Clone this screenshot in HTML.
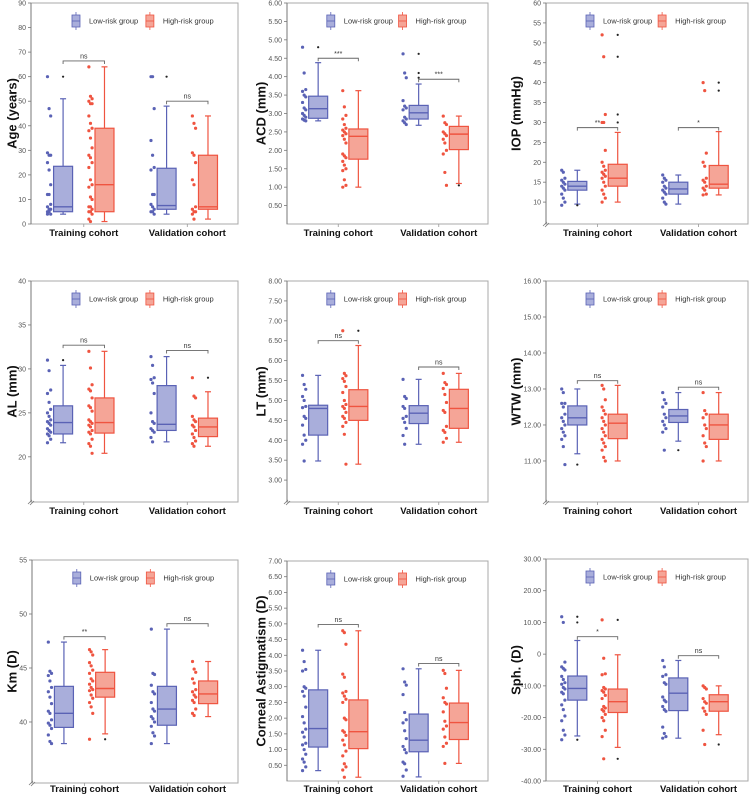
<!DOCTYPE html>
<html><head><meta charset="utf-8"><style>
html,body{margin:0;padding:0;background:#fff;}
svg{display:block;font-family:"Liberation Sans",sans-serif;}
</style></head><body>
<svg id="chart" width="753" height="794" viewBox="0 0 753 794"></svg>
<script>
// ---------- data ----------
const groupNames = ["Low-risk group","High-risk group"];
const cohortNames = ["Training cohort","Validation cohort"];
// box stats per group: [whiskerLow, q1, median, q3, whiskerHigh]; order: low-train, high-train, low-val, high-val
const ageBoxes = [[4,5,7,23.5,51],[1,5,16,39,64],[4,6,7.5,22.7,48],[2,6,7,28,44]];
const agePoints = [[60,47,44,29,28,28,25,22,16,12,12,8,7,6,6,5,5,4,4],[64,52,51,50,49,49,44,41,39,38,35,31,28,27,25,23,18,16,15,11,10,7,7,6,5,5,4,2,1],[60,60,47,34,28,23,22,12,12,8,7,6,5,5,4],[44,41,39,29,28,25,18,16,7,6,5,5,4,2]];
const ageOutliers = [[60],[],[60],[]];
const ageSig = [["ns",66.4],["ns",50]];
const acdBoxes = [[2.8,2.87,3.13,3.47,4.38],[1.0,1.76,2.38,2.58,3.62],[2.68,2.85,3.02,3.22,3.8],[1.1,2.02,2.44,2.65,2.93]];
const acdPoints = [[4.8,4.1,3.65,3.6,3.5,3.45,3.3,3.15,3.1,3.0,2.95,2.9,2.85,2.82,2.8],[3.62,3.18,2.95,2.85,2.7,2.6,2.55,2.5,2.45,2.4,2.3,2.2,1.9,1.85,1.8,1.7,1.6,1.5,1.45,1.2,1.05,1.0],[4.62,4.1,3.97,3.35,3.2,3.15,3.1,2.9,2.85,2.8,2.75,2.7],[2.93,2.75,2.7,2.5,2.45,2.4,2.3,2.2,2.0,1.9,1.4,1.05]];
const acdOutliers = [[4.8],[],[3.97,4.1,4.62],[1.05]];
const acdSig = [["***",4.5],["***",3.93]];
const iopBoxes = [[9.5,13,14,15.2,18],[10,14,16,19.5,27.5],[9.5,12,13.3,15,16.8],[11.8,13.5,14.5,19.2,27.7]];
const iopPoints = [[18,17.5,16,15.5,15,14.5,14,13.5,13,12,11,10,9.2],[52,46.5,32,30,30,23,20,19,18,17.5,17,16.5,16,15,14,13,12,11,10],[16.8,16,15.5,15,14,13.5,13,12.5,12,11,10,9.5],[40,38,22.3,20,19,16,15.5,15,14,13.5,13,12,11.8]];
const iopOutliers = [[9.2],[30,32,46.5,52],[],[38,40]];
const iopSig = [["**",28.7],["*",28.7]];
const alBoxes = [[21.6,22.6,23.9,25.8,30.4],[20.4,22.7,23.9,26.7,32],[21.7,23,23.7,28.1,31.4],[21.2,22.3,23.4,24.4,27.4]];
const alPoints = [[31,29.8,27.6,27.2,26.2,25.4,25,24.6,24.2,24,23.8,23.6,23.2,23,22.8,22.6,22.4,22,21.6],[32,30.1,28.2,27.7,27.5,26.7,25.8,25.6,25.2,24.2,24,23.8,23.6,23.4,23,22.8,22.6,22,21.5,21.2,20.4],[31.4,30.4,29,28.8,28.4,27.2,25,24,23.8,23.2,23,22.8,22.2,21.7],[29,26.9,26.7,24.6,24.2,24,23.6,23.4,23,22.6,22.2,21.8,21.5,21.2]];
const alOutliers = [[31],[],[],[29]];
const alSig = [["ns",32.7],["ns",32.1]];
const ltBoxes = [[3.48,4.13,4.8,4.88,5.63],[3.4,4.5,4.85,5.27,6.38],[3.9,4.42,4.68,4.87,5.53],[3.95,4.3,4.8,5.28,5.68]];
const ltPoints = [[5.63,5.4,5.28,5.1,5.0,4.85,4.82,4.6,4.55,4.38,4.13,4.0,3.9,3.48],[6.75,5.68,5.62,5.55,5.48,5.35,5.2,5.0,4.9,4.85,4.8,4.7,4.6,4.55,4.45,4.35,4.15,3.4],[5.53,5.1,5.05,4.85,4.8,4.6,4.55,4.45,4.3,4.12,3.9],[5.68,5.45,5.4,5.3,5.15,4.95,4.75,4.7,4.35,4.25,4.2,4.05,3.95]];
const ltOutliers = [[],[6.75],[],[]];
const ltSig = [["ns",6.5],["ns",5.84]];
const wtwBoxes = [[11.2,12,12.2,12.53,13],[11,11.62,12.05,12.3,13.1],[11.55,12.07,12.25,12.43,12.9],[11,11.6,12,12.3,12.9]];
const wtwPoints = [[13,12.9,12.6,12.6,12.5,12.3,12.2,12.1,12,11.9,11.8,11.7,11.6,11.4,10.9],[13.1,13,12.7,12.5,12.4,12.3,12.2,12.1,12,11.9,11.8,11.7,11.6,11.5,11.4,11.3,11.1,11],[12.9,12.7,12.6,12.5,12.3,12.2,12.1,12,11.9,11.8,11.3],[12.9,12.4,12.3,12.2,12,11.9,11.7,11.5,11.4,11]];
const wtwOutliers = [[10.9],[],[11.3],[]];
const wtwSig = [["ns",13.23],["ns",13.05]];
const kmBoxes = [[38,39.5,40.8,43.3,47.4],[38.9,42.3,43.1,44.6,46.7],[38,39.7,41.2,43.3,48.6],[40.5,41.7,42.6,43.8,45.6]];
const kmPoints = [[47.4,44.7,44.5,44.3,43.8,43.2,42.8,42.3,41.7,41,40.8,40.2,39.9,39.7,39.4,38.8,38.2,38],[46.7,46.5,46.2,45.5,45.2,44.8,44.5,44,43.8,43.5,43.2,43,42.9,42.5,42.2,41.8,41.4,40.8,38.4],[48.6,44.5,44.4,43.4,42.8,42.6,41.8,41.2,41,40.5,40.3,40,39.6,39,38.7,38],[45.6,44.9,44.6,44,43.6,43,42.8,42.5,42.3,42,41.8,41.2,40.8,40.6]];
const kmOutliers = [[],[38.4],[],[]];
const kmSig = [["**",47.9],["ns",49.1]];
const caBoxes = [[0.33,1.08,1.67,2.9,4.16],[0.12,1.03,1.57,2.58,4.78],[0.13,0.93,1.3,2.13,3.57],[0.56,1.32,1.86,2.48,3.52]];
const caPoints = [[4.16,3.8,3.55,3.5,3.0,2.95,2.85,2.7,2.35,2.05,1.85,1.65,1.55,1.4,1.2,1.15,1.0,0.85,0.7,0.6,0.45,0.33],[4.78,4.72,4.35,3.4,3.3,2.85,2.8,2.7,2.6,2.5,2.0,1.95,1.6,1.55,1.45,1.3,1.15,0.95,0.8,0.55,0.45,0.35,0.12],[3.57,3.15,3.05,2.75,2.18,1.95,1.85,1.6,1.35,1.1,1.0,0.9,0.6,0.55,0.35,0.15],[3.52,3.42,2.95,2.65,2.5,2.45,2.2,1.9,1.75,1.65,1.4,1.2,1.1,0.56]];
const caOutliers = [[],[],[],[]];
const caSig = [["ns",4.98],["ns",3.74]];
const sphBoxes = [[-25.8,-14.5,-10.8,-6.9,4.3],[-29.4,-18.4,-15,-11,-0.2],[-26.5,-17.8,-12.3,-7.5,-2],[-25.4,-18,-15,-12.8,-10]];
const sphPoints = [[11.8,10,-2.5,-4,-4.5,-5,-7,-8,-9,-9.5,-10.5,-11,-12,-12.5,-14.5,-16,-17.5,-19.5,-21,-24,-25.5,-27],[10.8,-1.3,-6.2,-6.5,-10.5,-11,-11.5,-12,-13,-14,-16.5,-17,-17.5,-18,-19,-20,-21,-24,-26,-33],[-2,-4,-6.5,-7,-9,-9.5,-13.5,-14.5,-15,-16.5,-17.5,-18,-23,-25,-26,-26.5],[-10,-10.5,-11,-14,-15,-15.5,-17,-18,-19,-24,-28.5]];
const sphOutliers = [[11.8,10,-27],[10.8,-33],[],[-28.5]];
const sphSig = [["*",5.5],["ns",-0.5]];
// axis ticks
const ageTicks = [0,10,20,30,40,50,60,70,80,90];
const acdTicks = [0.5,1,1.5,2,2.5,3,3.5,4,4.5,5,5.5,6];
const iopTicks = [10,15,20,25,30,35,40,45,50,55,60];
const alTicks = [20,25,30,35,40];
const ltTicks = [3,3.5,4,4.5,5,5.5,6,6.5,7,7.5,8];
const wtwTicks = [11,12,13,14,15,16];
const kmTicks = [40,45,50,55];
const caTicks = [0.5,1,1.5,2,2.5,3,3.5,4,4.5,5,5.5,6,6.5,7];
const sphTicks = [-40,-30,-20,-10,0,10,20,30];

// ---------- layout ----------
const panels = [
 {id:"age",title:"Age (years)",x0:31,x1:238,y0:3,y1:224,min:0,max:90,dec:0,brk:false,tx:12,boxes:ageBoxes,pts:agePoints,out:ageOutliers,sig:ageSig,ticks:ageTicks},
 {id:"acd",title:"ACD (mm)",x0:287,x1:488,y0:3,y1:224,min:0,max:6,dec:2,brk:false,tx:261,boxes:acdBoxes,pts:acdPoints,out:acdOutliers,sig:acdSig,ticks:acdTicks},
 {id:"iop",title:"IOP (mmHg)",x0:546,x1:748,y0:3,y1:224,min:4.5,max:60,dec:0,brk:true,tx:516,boxes:iopBoxes,pts:iopPoints,out:iopOutliers,sig:iopSig,ticks:iopTicks},
 {id:"al",title:"AL (mm)",x0:31,x1:238,y0:281,y1:502,min:14.86,max:40,dec:0,brk:true,tx:12,boxes:alBoxes,pts:alPoints,out:alOutliers,sig:alSig,ticks:alTicks},
 {id:"lt",title:"LT (mm)",x0:287,x1:488,y0:281,y1:502,min:2.45,max:8,dec:2,brk:true,tx:261,boxes:ltBoxes,pts:ltPoints,out:ltOutliers,sig:ltSig,ticks:ltTicks},
 {id:"wtw",title:"WTW (mm)",x0:546,x1:748,y0:281,y1:502,min:9.86,max:16,dec:2,brk:true,tx:516,boxes:wtwBoxes,pts:wtwPoints,out:wtwOutliers,sig:wtwSig,ticks:wtwTicks},
 {id:"km",title:"Km (D)",x0:32,x1:238,y0:560,y1:783,min:34.35,max:55,dec:0,brk:true,tx:12,boxes:kmBoxes,pts:kmPoints,out:kmOutliers,sig:kmSig,ticks:kmTicks},
 {id:"ca",title:"Corneal Astigmatism (D)",x0:287,x1:488,y0:561,y1:781,min:0,max:7,dec:2,brk:false,tx:261,boxes:caBoxes,pts:caPoints,out:caOutliers,sig:caSig,ticks:caTicks},
 {id:"sph",title:"Sph. (D)",x0:546,x1:748,y0:559,y1:781,min:-40,max:30,dec:2,brk:false,tx:516,boxes:sphBoxes,pts:sphPoints,out:sphOutliers,sig:sphSig,ticks:sphTicks}
];
const strokeC = ["#5a62b5","#ef5440"];
const fillC = ["#a9aedb","#f5a597"];
const NS = "http://www.w3.org/2000/svg";
const svg = document.getElementById("chart");
function mk(tag, attrs, parent, text){
  const e = document.createElementNS(NS, tag);
  for (const k in attrs) e.setAttribute(k, attrs[k]);
  if (text !== undefined) e.textContent = text;
  parent.appendChild(e);
  return e;
}
function fmt(v, dec){ if (dec===0) return String(v); if (v===0) return "0"; return v.toFixed(dec); }

panels.forEach(p => {
  const g = mk("g", {}, svg);
  
  
  const W = p.x1 - p.x0;
  const yS = v => p.y1 - (v - p.min) / (p.max - p.min) * (p.y1 - p.y0);
  const boxX = [p.x0 + W*0.155, p.x0 + W*0.355, p.x0 + W*0.655, p.x0 + W*0.855];
  const bw = 9.5;
  const fr = mk("rect", {x:p.x0, y:p.y0, width:W, height:p.y1-p.y0, fill:"none", stroke:"#a8a8a8", "stroke-width":1}, g);
  
  
  const ax = mk("line", {x1:p.x0, y1:p.y0, x2:p.x0, y2:p.y1, stroke:"#777", "stroke-width":1}, g);
  
  
  if (p.brk) {
    const bk = mk("path", {d:`M${p.x0-3},${p.y1+2} L${p.x0+1},${p.y1-2} M${p.x0-1},${p.y1+3} L${p.x0+3},${p.y1-1}`, stroke:"#777", "stroke-width":0.8, fill:"none"}, g);
    
    
  }
  p.ticks.forEach(t => {
    const y = yS(t);
    mk("line", {x1:p.x0-3, y1:y, x2:p.x0, y2:y, stroke:"#777", "stroke-width":0.8}, g);
    const tl = mk("text", {x:p.x0-5, y:y+2.5, "font-size":7, fill:"#555", "text-anchor":"end"}, g, fmt(t, p.dec));
    
    
  });
  const yt = mk("text", {x:p.tx, y:(p.y0+p.y1)/2, "font-size":13, "font-weight":"bold", fill:"#111", "text-anchor":"middle", transform:`rotate(-90 ${p.tx} ${(p.y0+p.y1)/2})`, dy:4.5}, g, p.title);
  
  
  [0,1].forEach(c => {
    const cx = (boxX[c*2] + boxX[c*2+1]) / 2;
    mk("line", {x1:cx, y1:p.y1, x2:cx, y2:p.y1+3, stroke:"#999", "stroke-width":0.8}, g);
    const xl = mk("text", {x:cx, y:Math.min(p.y1+12, 792), "font-size":9.5, "font-weight":"bold", fill:"#111", "text-anchor":"middle"}, g, cohortNames[c]);
    
    
  });
  [0,1].forEach(k => {
    const lx = p.x0 + W*(k===0?0.198:0.555);
    const ly = p.y0 + 9;
    const lg = mk("g", {}, g);
    
    
    mk("line", {x1:lx+4, y1:ly, x2:lx+4, y2:ly+18, stroke:strokeC[k], "stroke-width":0.8}, lg);
    mk("rect", {x:lx, y:ly+3, width:8, height:12, fill:fillC[k], stroke:strokeC[k], "stroke-width":0.8}, lg);
    mk("line", {x1:lx, y1:ly+9, x2:lx+8, y2:ly+9, stroke:strokeC[k], "stroke-width":0.8}, lg);
    mk("text", {x:lx+17, y:ly+11.5, "font-size":7.5, fill:"#333"}, lg, groupNames[k]);
  });
  p.boxes.forEach((b, i) => {
    const k = i % 2;
    const cx = boxX[i];
    const bg = mk("g", {}, g);
    
    
    const [wl, q1, md, q3, wh] = b.map(yS);
    mk("line", {x1:cx, y1:wh, x2:cx, y2:q3, stroke:strokeC[k], "stroke-width":1.2}, bg);
    mk("line", {x1:cx, y1:q1, x2:cx, y2:wl, stroke:strokeC[k], "stroke-width":1.2}, bg);
    mk("line", {x1:cx-3, y1:wh, x2:cx+3, y2:wh, stroke:strokeC[k], "stroke-width":1.2}, bg);
    mk("line", {x1:cx-3, y1:wl, x2:cx+3, y2:wl, stroke:strokeC[k], "stroke-width":1.2}, bg);
    mk("rect", {x:cx-bw, y:q3, width:bw*2, height:Math.max(0.5,q1-q3), fill:fillC[k], stroke:strokeC[k], "stroke-width":1.2}, bg);
    mk("line", {x1:cx-bw, y1:md, x2:cx+bw, y2:md, stroke:strokeC[k], "stroke-width":1.4}, bg);
    const px = cx - 14;
    p.pts[i].forEach((v, j) => {
      const dot = mk("circle", {cx:px + ((j%3)-1)*1.6, cy:yS(v), r:1.6, fill:strokeC[k]}, bg);
      
      
    });
    p.out[i].forEach(v => {
      const od = mk("circle", {cx:cx, cy:yS(v), r:1.1, fill:"#222"}, bg);
      
      
    });
  });
  p.sig.forEach((s, c) => {
    const y = yS(s[1]);
    const xa = boxX[c*2], xb = boxX[c*2+1];
    const sg = mk("g", {}, g);
    
    
    mk("path", {d:`M${xa},${y+3} L${xa},${y} L${xb},${y} L${xb},${y+3}`, fill:"none", stroke:"#666", "stroke-width":0.9}, sg);
    mk("text", {x:(xa+xb)/2, y:y-2.5, "font-size":7, fill:"#333", "text-anchor":"middle"}, sg, s[0]);
  });
});
</script>
</body></html>
